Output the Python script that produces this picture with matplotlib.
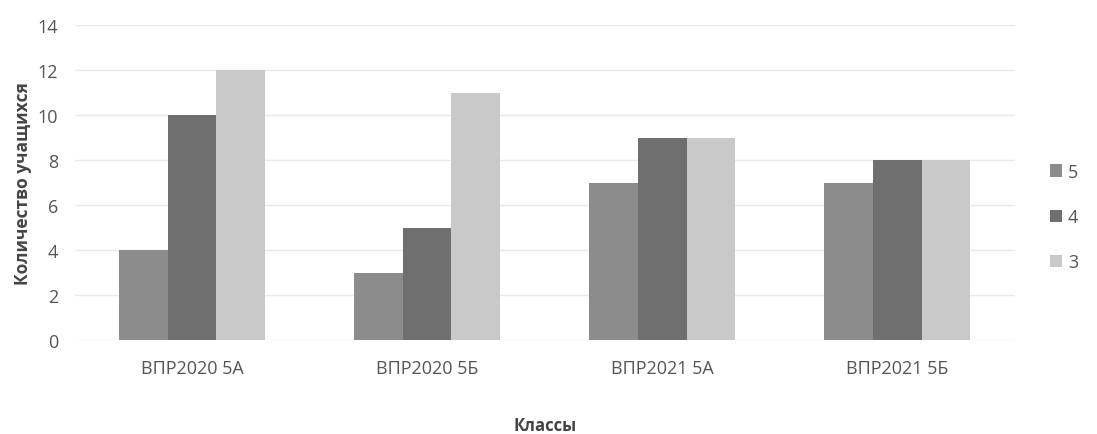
import numpy as np
import matplotlib.pyplot as plt

plt.rcParams['font.family'] = ['Open Sans', 'DejaVu Sans']

classes = ['ВПР2020 5А', 'ВПР2020 5Б', 'ВПР2021 5А', 'ВПР2021 5Б']
series_names = ['5', '4', '3']
grade5 = [4, 3, 7, 7]
grade4 = [10, 5, 9, 8]
grade3 = [12, 11, 9, 8]
colors = ['#8c8c8c', '#6f6f6f', '#c9c9c9']

fig = plt.figure(figsize=(10.97, 4.35), dpi=100)
ax = fig.add_axes([0.068, 0.216, 0.857, 0.724])

x = np.arange(len(classes))
w = 0.207
for i, (vals, name) in enumerate(zip([grade5, grade4, grade3], series_names)):
    ax.bar(x + (i - 1) * w, vals, width=w, color=colors[i], label=name, zorder=2)

ax.set_xlim(-0.5, len(classes) - 0.5)
ax.set_ylim(0, 14)
ax.set_yticks(range(0, 15, 2))
ax.set_xticks(x)
ax.set_xticklabels(classes)
ax.tick_params(axis='both', length=0, labelsize=13, colors='#555555')
ax.tick_params(axis='x', pad=14)
ax.tick_params(axis='y', pad=12)
ax.grid(axis='y', color='#eaeaea', linewidth=1, zorder=0)
for s in ax.spines.values():
    s.set_visible(False)

ax.set_ylabel('Количество учащихся', fontsize=12.5, fontweight='bold', color='#444444', labelpad=4)
ax.set_xlabel('Классы', fontsize=12, fontweight='bold', color='#444444', labelpad=28)

ax.legend(loc='center left', bbox_to_anchor=(1.02, 0.39), frameon=False, fontsize=13,
          handlelength=0.7, handleheight=0.7, handletextpad=0.3, labelspacing=1.5,
          labelcolor='#555555')

fig.savefig('out.png', dpi=100)
